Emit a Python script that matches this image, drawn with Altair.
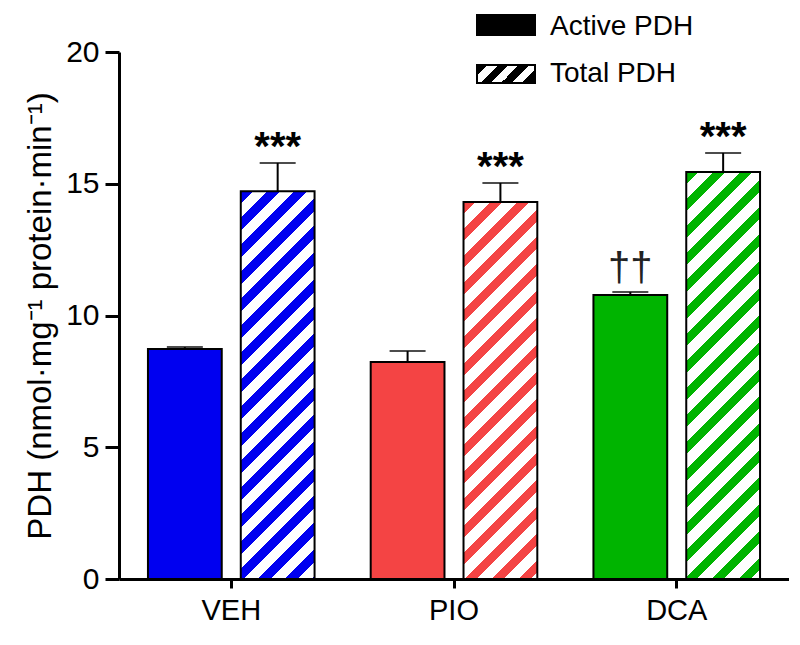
import math
import altair as alt
import pandas as pd

# ---------------- data ----------------
treatments = ["VEH", "PIO", "DCA"]
series = ["Active PDH", "Total PDH"]
active_mean = [8.73, 8.24, 10.78]
active_sem = [0.07, 0.41, 0.11]
total_mean = [14.72, 14.31, 15.45]
total_sem = [1.07, 0.72, 0.72]
active_marks = ["", "", "††"]
total_marks = ["***", "***", "***"]
colors = ["#0000f0", "#f44444", "#00b400"]

# ---------------- layout / style ----------------
W, H = 670, 527
YMAX = 20
PI, PO = 0.252, 0.13
PI_O = 0.205
FONT = "Liberation Sans"

step = W / (len(treatments) - PI + 2 * PO)
group_bw = step * (1 - PI)
bar_w = group_bw / (2 - PI_O) * (1 - PI_O)


def hatch(color, w, h, period=27.0, frac=0.45, bg="white"):
    n = (w + h) / period
    k = (w + h) / (w * w + h * h)
    stops = []
    for j in range(int(math.ceil(n))):
        o0 = min(j / n, 1.0)
        o1 = min((j + frac) / n, 1.0)
        o2 = min((j + 1) / n, 1.0)
        stops += [
            {"offset": o0, "color": color},
            {"offset": o1, "color": color},
            {"offset": o1, "color": bg},
            {"offset": o2, "color": bg},
        ]
    return {"gradient": "linear", "x1": 0, "y1": 0, "x2": w * k, "y2": h * k, "stops": stops}


rows = []
for i, t in enumerate(treatments):
    rows.append(dict(treatment=t, series=series[0], mean=active_mean[i],
                     top=active_mean[i] + active_sem[i], mark=active_marks[i], fillcolor=colors[i]))
    rows.append(dict(treatment=t, series=series[1], mean=total_mean[i],
                     top=total_mean[i] + total_sem[i], mark=total_marks[i], fillcolor=colors[i]))
df = pd.DataFrame(rows)

x_enc = alt.X("treatment:N", scale=alt.Scale(domain=treatments, paddingInner=PI, paddingOuter=PO),
              axis=alt.Axis(title=None, labelAngle=0, labelFontSize=29, labelPadding=8,
                            tickSize=9, tickWidth=3, domainWidth=3))
xo_enc = alt.XOffset("series:N", scale=alt.Scale(domain=series, paddingInner=PI_O, paddingOuter=0))
y_enc = alt.Y("mean:Q", scale=alt.Scale(domain=[0, YMAX], nice=False),
              axis=alt.Axis(values=[0, 5, 10, 15, 20], title="PDH (nmol·mg⁻¹ protein·min⁻¹)",
                            grid=False, labelFontSize=30, labelPadding=6, tickSize=14, tickWidth=3,
                            domainWidth=3, titleFontSize=33, titlePadding=8))

base = alt.Chart(df)

active = base.transform_filter(alt.datum.series == series[0]).mark_bar(
    stroke="black", strokeWidth=2).encode(x=x_enc, xOffset=xo_enc, y=y_enc,
                                          fill=alt.Fill("fillcolor:N", scale=None))

totals = []
for i, t in enumerate(treatments):
    h_px = total_mean[i] / YMAX * H
    totals.append(
        base.transform_filter((alt.datum.series == series[1]) & (alt.datum.treatment == t))
        .mark_bar(fill=hatch(colors[i], bar_w, h_px), stroke="black", strokeWidth=2)
        .encode(x="treatment:N", xOffset="series:N", y="mean:Q")
    )

err = base.mark_rule(color="black", strokeWidth=2).encode(
    x="treatment:N", xOffset="series:N", y="mean:Q", y2="top:Q")
cap = base.mark_tick(color="black", thickness=2, size=36, orient="horizontal").encode(
    x="treatment:N", xOffset="series:N", y="top:Q")
stars = base.transform_filter(alt.datum.series == series[1]).mark_text(
    fontSize=40, fontWeight="bold", baseline="bottom", dy=5, color="black", font=FONT).encode(
    x="treatment:N", xOffset="series:N", y="top:Q", text="mark:N")
daggers = base.transform_filter(alt.datum.series == series[0]).mark_text(
    fontSize=40, baseline="bottom", dy=-3, color="#222222", font=FONT).encode(
    x="treatment:N", xOffset="series:N", y="top:Q", text="mark:N")

# legend
leg1 = alt.Chart(pd.DataFrame({"label": [series[0]]}))
leg2 = alt.Chart(pd.DataFrame({"label": [series[1]]}))
sw1 = leg1.mark_rect(fill="black", stroke="black", strokeWidth=2).encode(
    x=alt.value(358), x2=alt.value(416), y=alt.value(-37), y2=alt.value(-17))
sw2 = leg2.mark_rect(fill=hatch("black", 58, 18, period=21, frac=0.5), stroke="black", strokeWidth=2).encode(
    x=alt.value(358), x2=alt.value(416), y=alt.value(13), y2=alt.value(31))
lt1 = leg1.mark_text(align="left", baseline="middle", fontSize=28, font=FONT, color="black").encode(
    x=alt.value(431), y=alt.value(-25), text="label:N")
lt2 = leg2.mark_text(align="left", baseline="middle", fontSize=28, font=FONT, color="black").encode(
    x=alt.value(431), y=alt.value(22), text="label:N")

chart = alt.layer(active, *totals, err, cap, stars, daggers, sw1, sw2, lt1, lt2).properties(
    width=W, height=H,
    autosize=alt.AutoSizeParams(type="none"),
    padding={"left": 111, "top": 44, "right": 0, "bottom": 50},
).configure_view(stroke=None).configure_axis(
    labelFont=FONT, titleFont=FONT, labelColor="black", titleColor="black",
    domainColor="black", tickColor="black", titleFontWeight="normal"
)

chart.save("out.html", embed_options={"renderer": "svg", "actions": False})
